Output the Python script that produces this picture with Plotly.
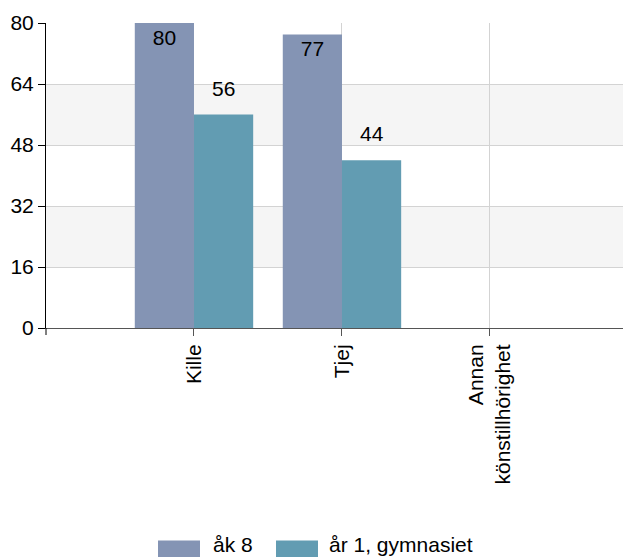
import plotly.graph_objects as go

categories = ["Kille", "Tjej", "Annan<br>könstillhörighet"]
series_names = ["åk 8", "år 1, gymnasiet"]
ak8 = [80, 77, None]
ar1 = [56, 44, None]
y_ticks = [0, 16, 32, 48, 64, 80]

colors = ["#8494b4", "#629cb2"]
FONT = "Liberation Sans, Arial, sans-serif"
FS = 21

# page body adds an 8px offset; margins compensate so the plot lands where the reference has it
OFF = 8
W, H = 631, 557
ML, MR, MT, MB = 46 - OFF, OFF, 23 - OFF, 557 - 328 + OFF
PW, PH = W - ML - MR, H - MT - MB

fig = go.Figure()
all_vals = [ak8, ar1]
for i, (name, vals, col) in enumerate(zip(series_names, all_vals, colors)):
    fig.add_trace(go.Bar(
        x=categories, y=vals, name=name,
        marker=dict(color=col, line=dict(width=0)),
        text=[str(v) if (v is not None and v > 70) else "" for v in vals],
        textposition="inside",
        insidetextanchor="end",
        textangle=0,
        textfont=dict(color="black", size=FS, family=FONT),
        showlegend=False,
    ))

# outside value labels for bars that have room above
bar_px = PW / 3.953 * 0.8 / 2
for i, vals in enumerate(all_vals):
    shift = (i - 0.5) * bar_px
    for c, v in zip(categories, vals):
        if v is not None and v <= 70:
            fig.add_annotation(x=c, y=v, xref="x", yref="y", text=str(v),
                               showarrow=False, xshift=shift, yshift=13,
                               yanchor="bottom", font=dict(size=FS, color="black", family=FONT))

# alternating bands
for lo, hi in [(16, 32), (48, 64)]:
    fig.add_shape(type="rect", xref="x domain", yref="y", x0=0, x1=1, y0=lo, y1=hi,
                  fillcolor="#f5f5f5", line=dict(width=0), layer="below")
# left tick below axis
fig.add_shape(type="line", xref="x domain", yref="y domain", x0=0, x1=0, y0=0, y1=-7 / PH,
              line=dict(color="black", width=1))

# custom legend (positions in window pixels)
def px_x(p):
    return (p - OFF - ML) / PW

def px_y(p):
    return (H - MB - (p - OFF)) / PH

legend_items = [(158, 211), (276, 327)]
for (sx, tx), name, col in zip(legend_items, series_names, colors):
    fig.add_shape(type="rect", xref="paper", yref="paper",
                  x0=px_x(sx), x1=px_x(sx + 42), y0=px_y(557), y1=px_y(540.5),
                  fillcolor=col, line=dict(width=0))
    fig.add_annotation(xref="paper", yref="paper", x=px_x(tx), y=px_y(544.5),
                       text=name, showarrow=False, xanchor="left", yanchor="middle",
                       font=dict(size=FS, color="black", family=FONT))

fig.update_layout(
    width=W, height=H,
    margin=dict(l=ML, r=MR, t=MT, b=MB),
    paper_bgcolor="white", plot_bgcolor="white",
    barmode="group", bargap=0.2, bargroupgap=0,
    font=dict(family=FONT, size=FS, color="black"),
    showlegend=False,
    xaxis=dict(range=[-1, 2.953], tickangle=-90, showgrid=True, gridcolor="#d3d3d3",
               showline=True, linecolor="#555", ticks="outside", ticklen=7,
               tickcolor="#555", tickfont=dict(size=FS, color="black"), zeroline=False,
               automargin=False),
    yaxis=dict(range=[0, 80], tickvals=y_ticks, showgrid=True, gridcolor="#d3d3d3",
               showline=True, linecolor="black", ticks="outside", ticklen=7,
               tickcolor="black", tickfont=dict(size=FS, color="black"), zeroline=False,
               automargin=False),
)

fig.write_html("out.html")
